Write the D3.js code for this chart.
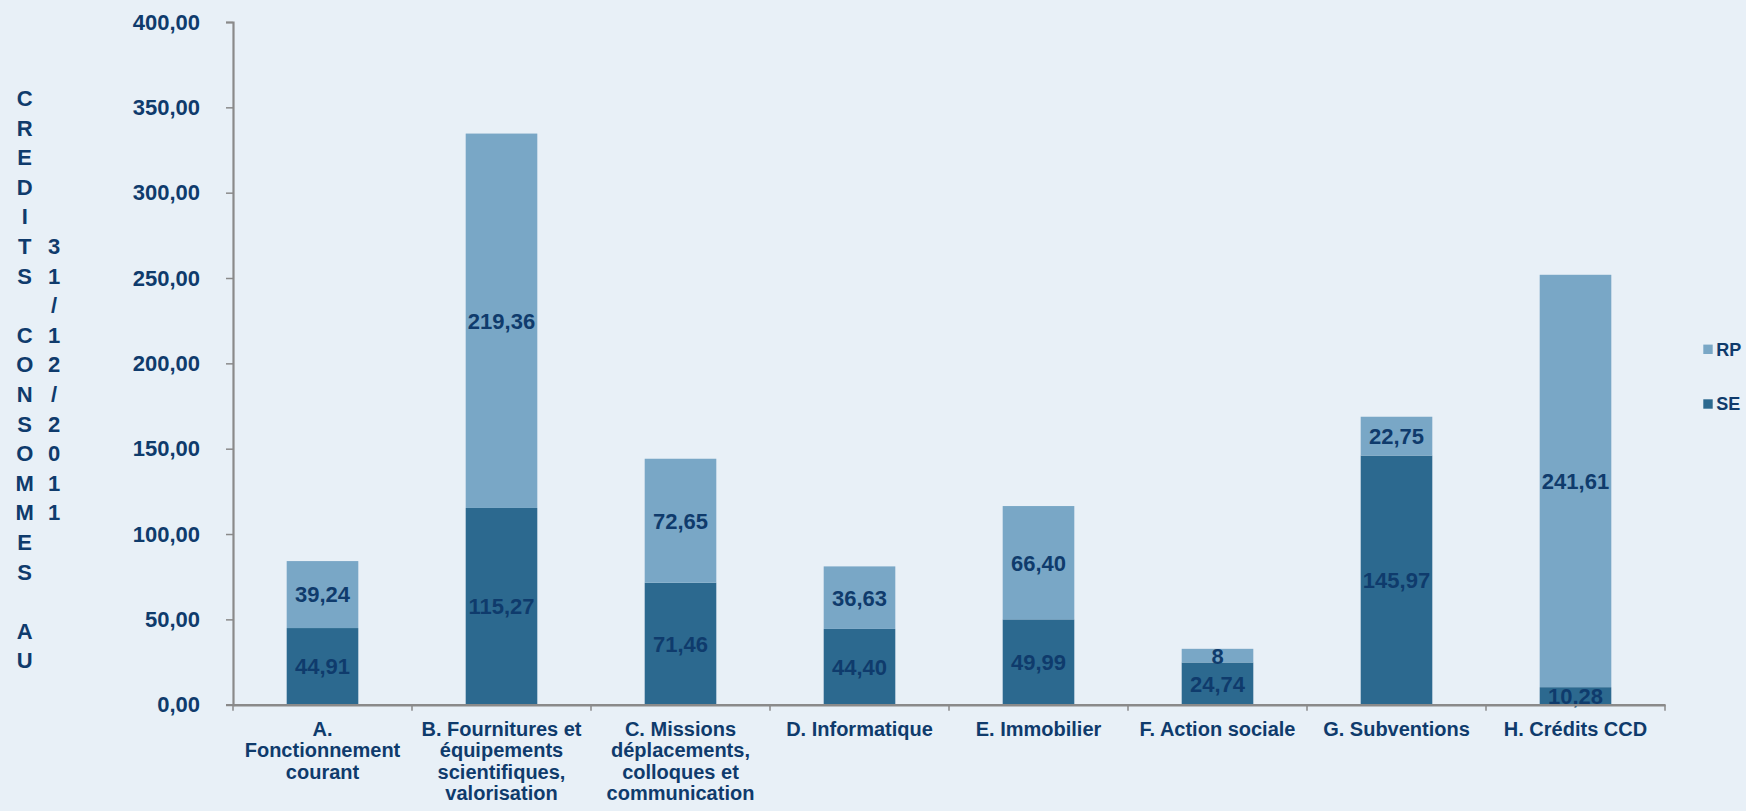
<!DOCTYPE html>
<html>
<head>
<meta charset="utf-8">
<script src="https://cdn.jsdelivr.net/npm/d3@7"></script>
<style>
  html, body { margin: 0; padding: 0; background: #e8f0f7; }
  svg { display: block; font-family: "Liberation Sans", Arial, sans-serif; font-weight: bold; }
</style>
</head>
<body>
<svg id="chart" width="1746" height="811"></svg>
<script>
const categories = [
  ["A.", "Fonctionnement", "courant"],
  ["B. Fournitures et", "équipements", "scientifiques,", "valorisation"],
  ["C. Missions", "déplacements,", "colloques et", "communication"],
  ["D. Informatique"],
  ["E. Immobilier"],
  ["F. Action sociale"],
  ["G. Subventions"],
  ["H. Crédits CCD"]
];
const seValues = [44.91, 115.27, 71.46, 44.40, 49.99, 24.74, 145.97, 10.28];
const rpValues = [39.24, 219.36, 72.65, 36.63, 66.40, 8, 22.75, 241.61];
const seLabels = ["44,91", "115,27", "71,46", "44,40", "49,99", "24,74", "145,97", "10,28"];
const rpLabels = ["39,24", "219,36", "72,65", "36,63", "66,40", "8", "22,75", "241,61"];
const yTicks = [0, 50, 100, 150, 200, 250, 300, 350, 400];
const titleCol1 = "CREDITS CONSOMMES AU";
const titleCol2 = "31/12/2011";
const seriesNames = ["RP", "SE"];

const colors = { SE: "#2c698f", RP: "#79a7c6", text: "#0f3b6c", axis: "#8a8a8a" };
const svg = d3.select("#chart");
svg.append("rect").attr("width", 1746).attr("height", 811).attr("fill", "#e8f0f7");

const idx = d3.range(categories.length);
const x = d3.scaleBand().domain(idx).range([233, 1665]).padding(0);
const y = d3.scaleLinear().domain([0, 400]).range([704.7, 22]);
const barW = x.bandwidth() * 0.4;
const fmt = d3.formatLocale({decimal: ",", thousands: " ", grouping: [3], currency: ["", ""]}).format(".2f");

// Bars
const g = svg.append("g");
idx.forEach(i => {
  const cx = x(i) + x.bandwidth() / 2;
  const se = seValues[i], rp = rpValues[i];
  g.append("rect").attr("x", cx - barW / 2).attr("width", barW)
    .attr("y", y(se)).attr("height", y(0) - y(se)).attr("fill", colors.SE);
  g.append("rect").attr("x", cx - barW / 2).attr("width", barW)
    .attr("y", y(se + rp)).attr("height", y(se) - y(se + rp)).attr("fill", colors.RP);
  g.append("text").attr("x", cx).attr("y", y(se / 2)).attr("dy", "0.36em")
    .attr("text-anchor", "middle").attr("font-size", 22).attr("fill", colors.text).text(seLabels[i]);
  g.append("text").attr("x", cx).attr("y", y(se + rp / 2)).attr("dy", "0.36em")
    .attr("text-anchor", "middle").attr("font-size", 22).attr("fill", colors.text).text(rpLabels[i]);
});

// Y axis
const yAxis = d3.axisLeft(y).tickValues(yTicks).tickFormat(fmt).tickSize(7).tickPadding(26);
const yg = svg.append("g").attr("transform", "translate(233,0)").call(yAxis);
yg.select(".domain").attr("stroke", colors.axis).attr("stroke-width", 2.2);
yg.selectAll(".tick line").attr("stroke", colors.axis).attr("stroke-width", 1.5);
yg.selectAll(".tick text").attr("font-size", 22).attr("font-weight", "bold")
  .attr("fill", colors.text).attr("font-family", "\"Liberation Sans\", Arial, sans-serif");

// X axis
const xAxis = d3.axisBottom(x).tickValues([]).tickSizeOuter(0);
const xg = svg.append("g").attr("transform", `translate(0,${y(0)})`).call(xAxis);
xg.select(".domain").attr("stroke", colors.axis).attr("stroke-width", 2.5);
const bounds = idx.map(i => x(i)).concat([x.range()[1]]);
xg.selectAll("line.bt").data(bounds).enter().append("line").attr("class", "bt")
  .attr("x1", d => d).attr("x2", d => d).attr("y1", 0).attr("y2", 6)
  .attr("stroke", colors.axis).attr("stroke-width", 1.5);
idx.forEach(i => {
  const cx = x(i) + x.bandwidth() / 2;
  const t = xg.append("text").attr("x", cx).attr("y", 31.5).attr("text-anchor", "middle")
    .attr("font-size", 20).attr("fill", colors.text);
  categories[i].forEach((line, k) => {
    t.append("tspan").attr("x", cx).attr("dy", k === 0 ? 0 : 21.3).text(line);
  });
});

// Y title (vertical stacked letters)
const lh = 29.6;
const t1 = svg.append("text").attr("font-size", 22).attr("fill", colors.text).attr("text-anchor", "middle");
titleCol1.split("").forEach((ch, k) => {
  t1.append("tspan").attr("x", 24.7).attr("y", 106 + k * lh).text(ch === " " ? "\u00a0" : ch);
});
const t2 = svg.append("text").attr("font-size", 22).attr("fill", colors.text).attr("text-anchor", "middle");
titleCol2.split("").forEach((ch, k) => {
  t2.append("tspan").attr("x", 54).attr("y", 106 + (k + 5) * lh).text(ch);
});

// Legend
const legY = [349.3, 404];
seriesNames.forEach((name, k) => {
  svg.append("rect").attr("x", 1703.3).attr("y", legY[k] - 4.7).attr("width", 9.4).attr("height", 9.4)
    .attr("fill", colors[name]);
  svg.append("text").attr("x", 1716.2).attr("y", legY[k]).attr("dy", "0.36em")
    .attr("font-size", 18).attr("fill", colors.text).text(name);
});
</script>
</body>
</html>
